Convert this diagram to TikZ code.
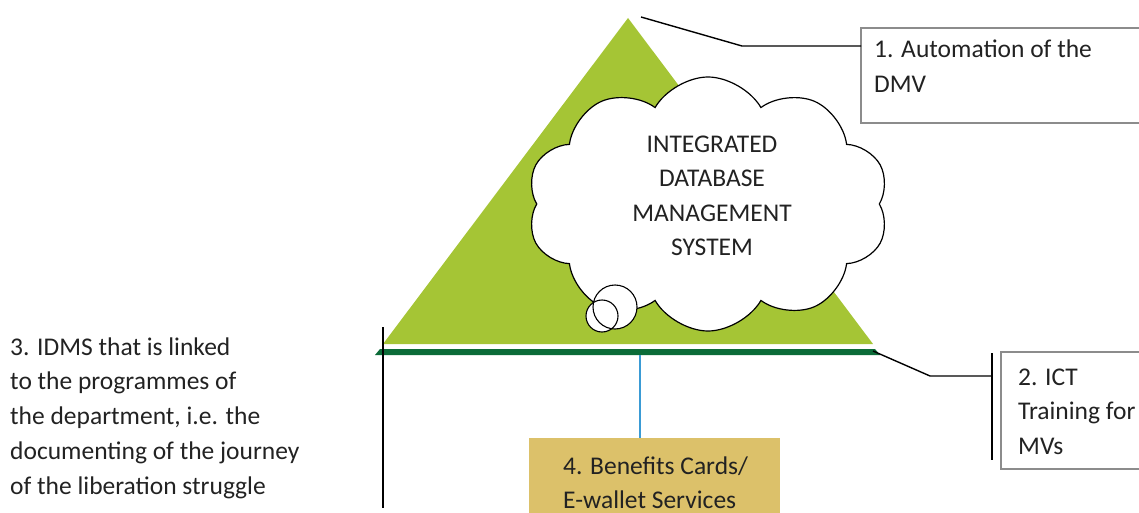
\documentclass[tikz,border=0pt]{standalone}
\usepackage{fontspec}
\setmainfont{Carlito}
\usetikzlibrary{shapes.symbols}
\definecolor{trigreen}{HTML}{A5C535}
\definecolor{bargreen}{HTML}{0B6B38}
\definecolor{gold}{HTML}{DCC16A}
\definecolor{bluel}{HTML}{3A9BD5}
\definecolor{boxgray}{HTML}{8C8C8C}
\definecolor{txtc}{HTML}{222222}
\tikzset{
  txt/.style={font=\fontsize{25.5}{34.8}\selectfont, text=txtc, align=left, inner sep=0pt, anchor=base west},
  ctxt/.style={font=\fontsize{25.5}{34.6}\selectfont, text=txtc, align=center, inner sep=0pt, anchor=base},
  leader/.style={draw=black, line width=1.4pt},
  graybox/.style={draw=boxgray, line width=2.4pt, fill=white},
}
\begin{document}
\begin{tikzpicture}[x=1pt,y=-1pt]
\useasboundingbox (0,0) rectangle (1139,513);
% triangle
\fill[trigreen] (628,18) -- (873,344) -- (383,344) -- cycle;
% dark green bar
\fill[bargreen] (380,349) -- (875,349) -- (880,355) -- (375,355) -- cycle;
\coordinate (barmid) at (640,355);
\coordinate (barright) at (873,351);
\coordinate (apex) at (641,17);
% vertical line at left
\draw[leader] (383,327) -- (383,508);
% cloud
\node[cloud, cloud puffs=10, cloud puff arc=120, cloud ignores aspect, minimum width=362pt, minimum height=254pt, inner sep=0pt, draw=black, line width=1.2pt, fill=white] (cloud) at (708,204) {};
\node[ctxt] (cloudtxt) at (712,255.8) {INTEGRATED\\DATABASE\\MANAGEMENT\\SYSTEM};
% thought bubbles
\node[circle, fill=white, minimum size=44pt, inner sep=0pt] (b1) at (615,307) {};
\node[circle, fill=white, minimum size=32pt, inner sep=0pt] (b2) at (602,316) {};
\node[circle, draw=black, line width=1.1pt, minimum size=44pt, inner sep=0pt] (b1o) at (615,307) {};
\node[circle, draw=black, line width=1.1pt, minimum size=32pt, inner sep=0pt] (b2o) at (602,316) {};
% box 1
\draw[graybox] (861,28) rectangle (1150,123);
\node[txt] (t1) at (874,92.8) {1. Automation of the\\DMV};
\coordinate (k1) at (742,46);
\coordinate (e1) at (861,46);
\draw[leader] (apex) -- (k1) -- (e1);
% box 2
\draw[graybox] (1001,352) rectangle (1150,469);
\node[txt] (t2) at (1018,454.6) {2. ICT\\Training for\\MVs};
\coordinate (k2) at (930,376);
\coordinate (e2) at (992,376);
\draw[leader] (barright) -- (k2) -- (e2);
\draw[leader] (992,353) -- (992,460);
% left text
\node[txt] (t3) at (10,494.2) {3. IDMS that is linked\\to the programmes of\\the department, i.e. the\\documenting of the journey\\of the liberation struggle};
% gold box
\fill[gold] (529,438) rectangle (780,520);
\coordinate (goldtop) at (640,438);
\draw[bluel, line width=1.3pt] (barmid) -- (goldtop);
\node[txt] (t4) at (563,508.8) {4. Benefits Cards/\\E-wallet Services};
\end{tikzpicture}
\end{document}
